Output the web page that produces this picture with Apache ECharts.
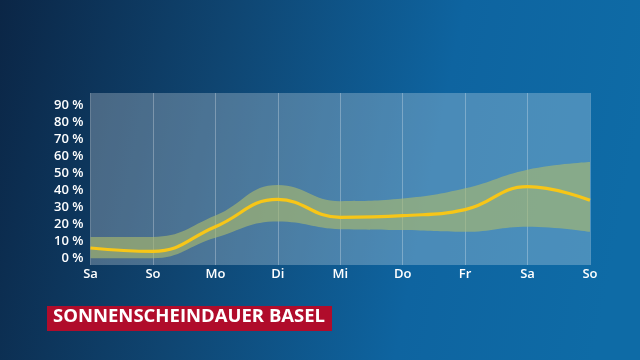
<!DOCTYPE html>
<html>
<head>
<meta charset="utf-8">
<script src="https://cdn.jsdelivr.net/npm/echarts@6/dist/echarts.min.js"></script>
<style>
html,body{margin:0;padding:0;width:640px;height:360px;overflow:hidden;}
#c{width:640px;height:360px;}
</style>
</head>
<body>
<div id="c"></div>
<script>
const days = ['Sa','So','Mo','Di','Mi','Do','Fr','Sa','So'];
const sunshine = [6, 4, 18.5, 34.5, 24, 25, 28.5, 42, 34];
const upperBand = [12.5, 11.5, 25, 43, 33.5, 35, 41, 52, 56.5];
const lowerBand = [0, -1, 12, 21.5, 17, 16.5, 15.5, 18.5, 15.5];
const yTicks = [0, 10, 20, 30, 40, 50, 60, 70, 80, 90];
const title = 'SONNENSCHEINDAUER BASEL';

const bandWidth = upperBand.map((u, i) => u - lowerBand[i]);
const font = '"Open Sans", "Noto Sans", sans-serif';

const chart = echarts.init(document.getElementById('c'), null, {renderer: 'canvas'});
chart.setOption({
  animation: false,
  backgroundColor: {
    type: 'linear', x: 0, y: 0, x2: 1, y2: 0.35,
    colorStops: [
      {offset: 0, color: '#0b2646'},
      {offset: 0.35, color: '#0f4571'},
      {offset: 0.7, color: '#0e64a0'},
      {offset: 1, color: '#0e6ba6'}
    ]
  },
  grid: {
    left: 90.5, right: 50, top: 93, bottom: 95,
    show: true,
    borderWidth: 0,
    backgroundColor: 'rgba(255,255,255,0.25)'
  },
  xAxis: {
    type: 'category',
    data: days,
    boundaryGap: false,
    axisLine: {show: false},
    axisTick: {show: false},
    axisLabel: {color: '#ffffff', fontSize: 13, fontWeight: 600, fontFamily: font, margin: 3, interval: 0},
    splitLine: {show: true, interval: 0, lineStyle: {color: 'rgba(255,255,255,0.28)', width: 1}}
  },
  yAxis: {
    type: 'value',
    min: -4, max: 97,
    splitLine: {show: false},
    axisLine: {show: false},
    axisTick: {show: false},
    axisLabel: {
      customValues: yTicks,
      color: '#ffffff', fontSize: 13, fontWeight: 600, fontFamily: font, margin: 7,
      formatter: v => v + ' %'
    }
  },
  series: [
    {
      type: 'line', data: lowerBand, stack: 'band', smooth: 0.45,
      symbol: 'none', lineStyle: {opacity: 0}, areaStyle: {opacity: 0}, silent: true
    },
    {
      type: 'line', data: bandWidth, stack: 'band', smooth: 0.45,
      symbol: 'none', lineStyle: {opacity: 0},
      areaStyle: {color: 'rgba(172,188,108,0.62)', opacity: 1}, silent: true
    },
    {
      type: 'line', data: sunshine, smooth: 0.45, symbol: 'none',
      lineStyle: {color: '#f7c617', width: 3.2}
    }
  ],
  graphic: [
    {
      type: 'rect', left: 47, top: 306,
      shape: {width: 285, height: 25},
      style: {fill: '#b00c2b'}
    },
    {
      type: 'text', left: 53, top: 307,
      style: {text: title, fill: '#ffffff', font: 'bold 18.5px "Open Sans", "Noto Sans", sans-serif'}
    }
  ]
});
</script>
</body>
</html>
